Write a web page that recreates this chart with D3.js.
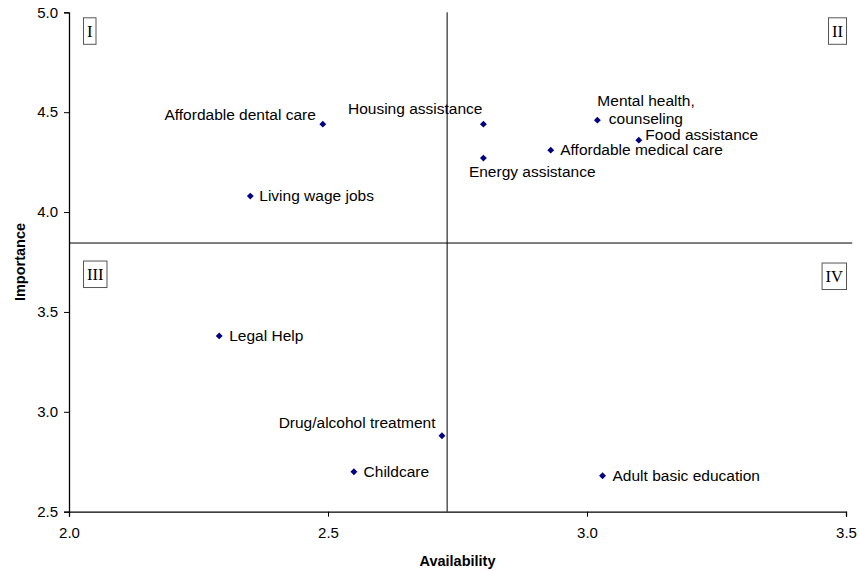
<!DOCTYPE html>
<html>
<head>
<meta charset="utf-8">
<script src="https://cdn.jsdelivr.net/npm/d3@7"></script>
<style>
  html, body { margin: 0; padding: 0; background: #fff; }
  svg { display: block; }
  text { font-family: "Liberation Sans", Arial, sans-serif; }
</style>
</head>
<body>
<svg id="chart" width="859" height="571"></svg>
<script>
// Services rated by availability (x) and importance (y)
const services = ["Affordable dental care", "Housing assistance", "Mental health, counseling",
  "Food assistance", "Affordable medical care", "Energy assistance", "Living wage jobs",
  "Legal Help", "Drug/alcohol treatment", "Childcare", "Adult basic education"];
const availability = [2.49, 2.80, 3.02, 3.10, 2.93, 2.80, 2.35, 2.29, 2.72, 2.55, 3.03];
const importance   = [4.44, 4.44, 4.46, 4.36, 4.31, 4.27, 4.08, 3.38, 2.88, 2.70, 2.68];

// Quadrant divider positions (mean availability / mean importance)
const splitAvailability = 2.73;
const splitImportance = 3.845;

const xTicks = [2.0, 2.5, 3.0, 3.5];
const yTicks = [2.5, 3.0, 3.5, 4.0, 4.5, 5.0];
const quadrants = ["I", "II", "III", "IV"];

// Label placement for each point: [anchor, dx, dy]
const labelPos = [
  ["end", -7, -4],
  ["end", -1, -10],
  ["start", 0, -14.5],
  ["start", 6.5, 0],
  ["start", 9.5, 4.5],
  ["start", -14.5, 19],
  ["start", 9, 4.5],
  ["start", 10, 5],
  ["end", -6.5, -7.5],
  ["start", 9.7, 5.5],
  ["start", 10, 5]
];

const svg = d3.select("#chart");
const x = d3.scaleLinear().domain([2.0, 3.5]).range([69, 846]);
const y = d3.scaleLinear().domain([2.5, 5.0]).range([511.7, 12.3]);

// Axes
const xAxis = svg.append("g").attr("transform", `translate(0,${y(2.5)})`)
  .call(d3.axisBottom(x).tickValues(xTicks).tickFormat(d3.format(".1f")).tickSizeOuter(0).tickSize(5).tickPadding(11));
const yAxis = svg.append("g").attr("transform", `translate(${x(2.0)},0)`)
  .call(d3.axisLeft(y).tickValues(yTicks).tickFormat(d3.format(".1f")).tickSizeOuter(0).tickSize(5).tickPadding(6));
[xAxis, yAxis].forEach(g => {
  g.select(".domain").attr("stroke", "#000").attr("stroke-width", 1.3);
  g.selectAll(".tick line").attr("stroke", "#000");
  g.selectAll(".tick text").attr("fill", "#000").style("font-size", "15px")
    .style("font-family", "'Liberation Sans', Arial, sans-serif");
});

// Axis titles
svg.append("text").attr("x", (x(2.0) + x(3.5)) / 2).attr("y", 565.5)
  .attr("text-anchor", "middle").style("font-size", "14.5px").style("font-weight", "bold")
  .text("Availability");
svg.append("text").attr("transform", `translate(24.5,${(y(2.5) + y(5.0)) / 2}) rotate(-90)`)
  .attr("text-anchor", "middle").style("font-size", "14.5px").style("font-weight", "bold")
  .text("Importance");

// Quadrant dividers
svg.append("line")
  .attr("x1", x(splitAvailability)).attr("x2", x(splitAvailability))
  .attr("y1", y(2.5)).attr("y2", y(5.0))
  .attr("stroke", "#000").attr("stroke-width", 1);
svg.append("line")
  .attr("x1", x(2.0)).attr("x2", x(3.512))
  .attr("y1", y(splitImportance)).attr("y2", y(splitImportance))
  .attr("stroke", "#000").attr("stroke-width", 1);

// Quadrant labels in boxes
const boxSpec = [
  {left: x(2.0) + 14, top: y(5.0) + 5, anchor: "start"},
  {right: x(3.5), top: y(5.0) + 5, anchor: "end"},
  {left: x(2.0) + 14, top: y(splitImportance) + 17.5, anchor: "start"},
  {right: x(3.5), top: y(splitImportance) + 19.5, anchor: "end"}
];
quadrants.forEach((q, i) => {
  const g = svg.append("g");
  const t = g.append("text")
    .style("font-family", "'Liberation Serif', 'Times New Roman', serif")
    .style("font-size", "16.5px").attr("fill", "#000").text(q);
  const w = t.node().getComputedTextLength();
  const bw = w + 7, bh = 26.5;
  const s = boxSpec[i];
  const left = s.left !== undefined ? s.left : s.right - bw;
  g.insert("rect", "text").attr("x", left + 0.5).attr("y", s.top + 0.5)
    .attr("width", bw).attr("height", bh)
    .attr("fill", "#fff").attr("stroke", "#555").attr("stroke-width", 1);
  t.attr("x", left + 0.5 + bw / 2).attr("y", s.top + bh / 2 + 6).attr("text-anchor", "middle");
});

// Points
const diamond = d3.symbol().type(d3.symbolDiamond2).size(30);
svg.append("g").selectAll("path").data(services).join("path")
  .attr("d", diamond)
  .attr("transform", (d, i) => `translate(${x(availability[i])},${y(importance[i])})`)
  .attr("fill", "#000080");

// Point labels
const labels = svg.append("g").selectAll("text").data(services).join("text")
  .attr("x", (d, i) => x(availability[i]) + labelPos[i][1])
  .attr("y", (d, i) => y(importance[i]) + labelPos[i][2])
  .attr("text-anchor", (d, i) => labelPos[i][0])
  .style("font-size", "15.5px").attr("fill", "#000");
labels.each(function(d, i) {
  const el = d3.select(this);
  if (d === "Mental health, counseling") {
    const x0 = x(availability[i]) + labelPos[i][1];
    el.append("tspan").attr("x", x0).text("Mental health,");
    el.append("tspan").attr("x", x0 + 11.5).attr("dy", 18).text("counseling");
  } else {
    el.text(d);
  }
});
</script>
</body>
</html>
